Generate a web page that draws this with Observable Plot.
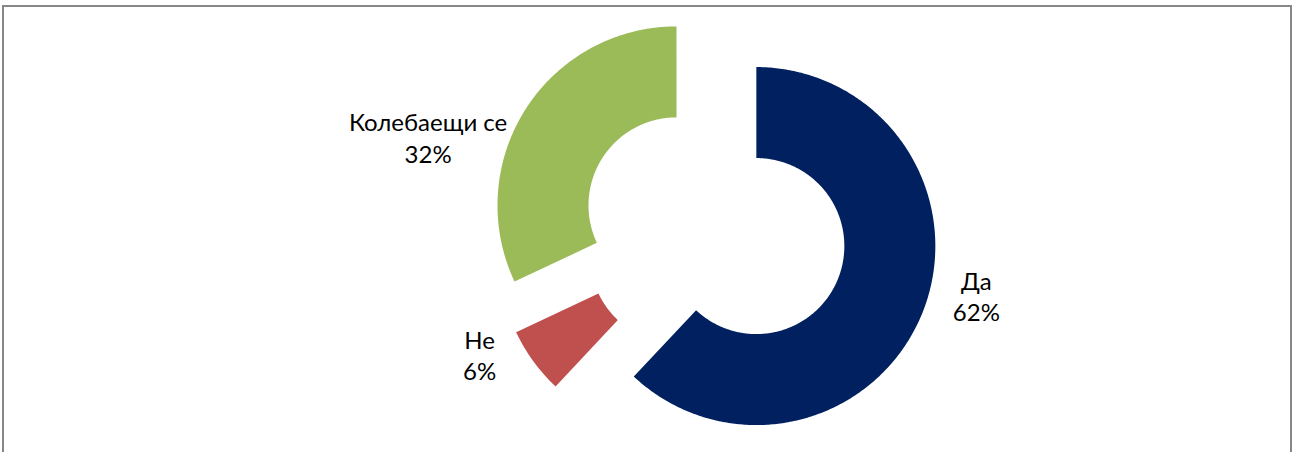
<!DOCTYPE html>
<html><head><meta charset="utf-8">
<script src="https://cdn.jsdelivr.net/npm/d3@7"></script>
<script src="https://cdn.jsdelivr.net/npm/@observablehq/plot@0.6"></script>
<style>
html,body{margin:0;padding:0;overflow:hidden;background:#fff;width:1300px;height:452px}
#chart{position:absolute;left:0;top:0}
#frame{position:absolute;left:2px;top:5px;width:1290px;height:447px;border:2px solid #878787;border-bottom:none;box-sizing:border-box;pointer-events:none}
</style></head><body>
<div id="chart"></div><div id="frame"></div>
<script>
// ---- data ----
const categories = ["Да", "Не", "Колебаещи се"];
const shares = [62, 6, 32];
const valueLabels = ["62%", "6%", "32%"];
const colors = ["#002060", "#C0504D", "#9BBB59"];

// ---- layout ----
const W = 1300, H = 452;
const cx = 714, cy = 229;          // pie centre (px)
const R = 179, r0 = 88, explode = 45;
// label placement: polar offset relative to each slice's mid-angle
const labelPolar = [{dA: -7.5, rho: 270}, {dA: 8, rho: 266}, {dA: -14.5, rho: 301}];

const rows = categories.map((c, i) => ({cat: c, share: shares[i], label: valueLabels[i], color: colors[i]}));
const arcs = d3.pie().sort(null).value(d => d.share)(rows);

function slicePoints(a) {
  const mid = (a.startAngle + a.endAngle) / 2;
  const ox = explode * Math.sin(mid), oy = explode * Math.cos(mid);
  const n = Math.max(8, Math.ceil((a.endAngle - a.startAngle) * 90));
  const pts = [];
  for (let k = 0; k <= n; k++) {
    const t = a.startAngle + (a.endAngle - a.startAngle) * k / n;
    pts.push({x: ox + R * Math.sin(t), y: oy + R * Math.cos(t)});
  }
  for (let k = n; k >= 0; k--) {
    const t = a.startAngle + (a.endAngle - a.startAngle) * k / n;
    pts.push({x: ox + r0 * Math.sin(t), y: oy + r0 * Math.cos(t)});
  }
  return pts;
}

const labelRows = arcs.map((a, i) => {
  const mid = (a.startAngle + a.endAngle) / 2 + labelPolar[i].dA * Math.PI / 180;
  return {x: labelPolar[i].rho * Math.sin(mid), y: labelPolar[i].rho * Math.cos(mid), text: a.data.cat + "\n" + a.data.label};
});

const chart = Plot.plot({
  width: W, height: H,
  margin: 0,
  x: {domain: [-cx, W - cx], range: [0, W], axis: null},
  y: {domain: [cy - H, cy], range: [H, 0], axis: null},
  style: {background: "transparent", fontFamily: "Lato, 'Open Sans', sans-serif"},
  marks: [
    ...arcs.map(a => Plot.line(slicePoints(a), {x: "x", y: "y", curve: "linear-closed", fill: a.data.color, stroke: "none"})),
    Plot.text(labelRows, {x: "x", y: "y", text: "text", fontSize: 24, lineHeight: 1.3, fill: "#000", textAnchor: "middle"})
  ]
});
document.getElementById("chart").appendChild(chart);
</script>
</body></html>
